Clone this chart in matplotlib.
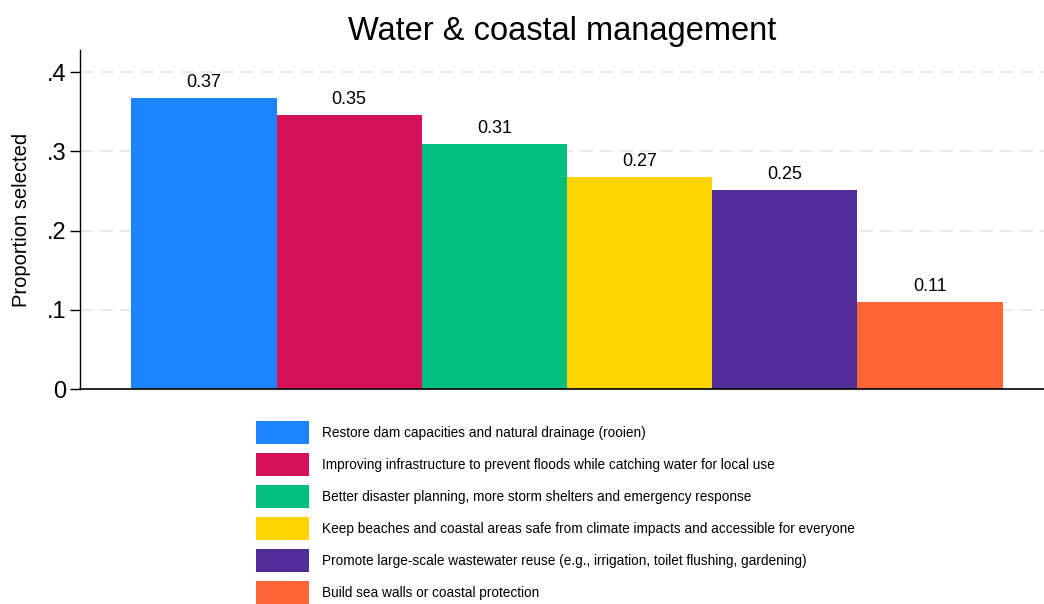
import matplotlib
matplotlib.use("Agg")
import matplotlib.pyplot as plt
from matplotlib.patches import Patch

plt.rcParams['font.family'] = ['Liberation Sans', 'DejaVu Sans']

# --- dados ---
categories = [
    "Restore dam capacities and natural drainage (rooien)",
    "Improving infrastructure to prevent floods while catching water for local use",
    "Better disaster planning, more storm shelters and emergency response",
    "Keep beaches and coastal areas safe from climate impacts and accessible for everyone",
    "Promote large-scale wastewater reuse (e.g., irrigation, toilet flushing, gardening)",
    "Build sea walls or coastal protection",
]
values = [0.367, 0.346, 0.309, 0.268, 0.251, 0.110]
colors = ["#1a85ff", "#d41159", "#00bf7f", "#ffd400", "#512d9a", "#ff6436"]
yticks = [0, 0.1, 0.2, 0.3, 0.4]
ytick_labels = ["0", ".1", ".2", ".3", ".4"]

fig = plt.figure(figsize=(10.44, 6.04), dpi=100)
ax = fig.add_axes([80 / 1044, 1 - 389 / 604, 1 - 80 / 1044, (389 - 50) / 604])

x = list(range(len(values)))
bars = ax.bar(x, values, width=1.0, color=colors, edgecolor="none", zorder=2)
ax.bar_label(bars, labels=[f"{v:.2f}" for v in values], padding=5, fontsize=13)

ax.set_xlim(-0.854, 5.785)
ax.set_ylim(0, 0.428)
ax.set_xticks([])
ax.set_yticks(yticks)
ax.set_yticklabels(ytick_labels, fontsize=17)
ax.tick_params(axis="y", length=7, width=1, pad=3)
ax.yaxis.grid(True, color="#e6e6e6", linestyle=(0, (8, 4)), linewidth=1.2, zorder=0)
ax.set_axisbelow(True)

for s in ["top", "right"]:
    ax.spines[s].set_visible(False)
ax.spines["left"].set_linewidth(1)
ax.spines["bottom"].set_linewidth(1.2)

ax.set_ylabel("Proportion selected", fontsize=14.5, labelpad=11)
ax.set_title("Water & coastal management", fontsize=23.5, pad=7)

# legenda: caixas 53x23 px, passo de 32 px
fs = 9.8
fpx = fs * 100 / 72
hh = (23 / fpx - 0.245) / 0.65
handles = [Patch(facecolor=c, edgecolor="none") for c in colors]
fig.legend(handles, categories, loc="upper left",
           bbox_to_anchor=(256 / 1044, 1 - 421 / 604),
           frameon=False, fontsize=fs, borderpad=0, borderaxespad=0,
           handlelength=53 / fpx, handleheight=hh,
           labelspacing=9 / fpx, handletextpad=13 / fpx)

fig.savefig("out.png", dpi=100)
